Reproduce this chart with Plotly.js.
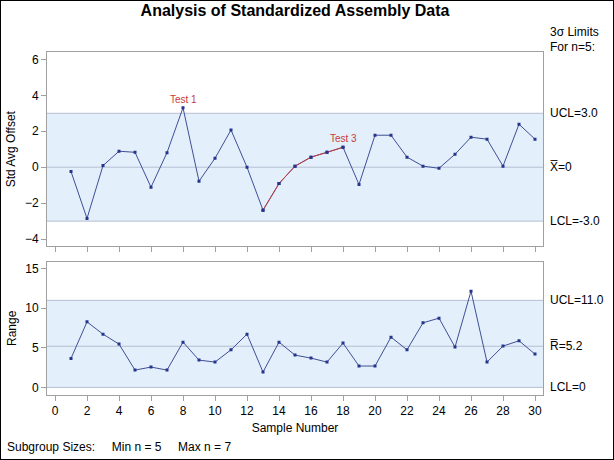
<!DOCTYPE html>
<html><head><meta charset="utf-8">
<script src="https://cdn.plot.ly/plotly-3.0.1.min.js"></script>
<style>body{margin:0;padding:0}#c{width:614px;height:460px}#f{position:absolute;left:0;top:0;width:614px;height:460px;box-sizing:border-box;border:1px solid #000;pointer-events:none}</style>
</head><body><div id="c"></div><div id="f"></div>
<script>
const samples = [1,2,3,4,5,6,7,8,9,10,11,12,13,14,15,16,17,18,19,20,21,22,23,24,25,26,27,28,29,30];
const stdAvg = [-0.24,-2.85,0.09,0.89,0.83,-1.11,0.81,3.31,-0.78,0.5,2.07,0.0,-2.39,-0.91,0.06,0.56,0.83,1.11,-0.96,1.78,1.78,0.56,0.06,-0.06,0.72,1.67,1.56,0.06,2.39,1.56];
const ranges = [3.66,8.28,6.73,5.47,2.19,2.57,2.19,5.72,3.45,3.2,4.75,6.73,1.94,5.72,4.08,3.7,3.2,5.6,2.7,2.7,6.35,4.75,8.16,8.75,5.09,12.16,3.2,5.22,5.89,4.21];
const test3Start = 13, test3End = 18;
const xUCL = 3.0, xCL = 0, xLCL = -3.0;
const rUCL = 11.0, rCL = 5.2, rLCL = 0;

const lineBlue = '#3e4f95', markBlue = '#27348b', red = '#c93a3a';
const limitLine = '#b4bfd2', fillBlue = '#e4effc', frame = '#a0a0a0';
const fontFam = 'Liberation Sans, Arial, sans-serif';

const i0 = samples.indexOf(test3Start), i1 = samples.indexOf(test3End);
const traces = [
  {x: samples, y: stdAvg, xaxis:'x2', yaxis:'y2', mode:'lines+markers', line:{color:lineBlue,width:1}, marker:{symbol:'square',size:3,color:markBlue}, hoverinfo:'none'},
  {x: samples.slice(i0,i1+1), y: stdAvg.slice(i0,i1+1), xaxis:'x2', yaxis:'y2', mode:'lines+markers', line:{color:red,width:1}, marker:{symbol:'square',size:3,color:markBlue}, hoverinfo:'none'},
  {x: samples, y: ranges, xaxis:'x', yaxis:'y', mode:'lines+markers', line:{color:lineBlue,width:1}, marker:{symbol:'square',size:3,color:markBlue}, hoverinfo:'none'}
];

function band(xref, yref, lo, hi){return {type:'rect', xref:xref, yref:yref, x0:0, x1:1, y0:lo, y1:hi, fillcolor:fillBlue, line:{width:0}, layer:'below'};}
function hl(xref, yref, v){return {type:'line', xref:xref, yref:yref, x0:0, x1:1, y0:v, y1:v, line:{color:limitLine,width:1}, layer:'below'};}

const rightLab = (yref, y, t) => ({xref:'paper', yref:yref, x:1, y:y, xanchor:'left', yanchor:'middle', xshift:5, text:t, showarrow:false, font:{size:12,color:'#000'}});

const layout = {
  width:614, height:460,
  margin:{l:47, r:71, t:52, b:65},
  paper_bgcolor:'#fff', plot_bgcolor:'#fff',
  font:{family:fontFam, size:12, color:'#000'},
  showlegend:false,
  title:{text:'<b>Analysis of Standardized Assembly Data</b>', x:0.5, xref:'paper', xanchor:'center', y:0.978, yanchor:'middle', font:{size:16, family:fontFam}},
  xaxis:{domain:[0,1], range:[-0.5,30.5], tickvals:[0,2,4,6,8,10,12,14,16,18,20,22,24,26,28,30], ticks:'outside', ticklen:5, tickcolor:frame, showline:true, linecolor:frame, mirror:true, showgrid:false, zeroline:false, anchor:'y', title:{text:'Sample Number', font:{size:12}, standoff:6}, tickfont:{size:12}},
  xaxis2:{domain:[0,1], range:[-0.5,30.5], tickvals:[0,2,4,6,8,10,12,14,16,18,20,22,24,26,28,30], showticklabels:false, ticks:'outside', ticklen:5, tickcolor:frame, showline:true, linecolor:frame, mirror:true, showgrid:false, zeroline:false, anchor:'y2'},
  yaxis:{domain:[0,0.389], range:[-0.96,15.9], tickvals:[0,5,10,15], ticks:'outside', ticklen:5, tickcolor:frame, showline:true, linecolor:frame, mirror:true, showgrid:false, zeroline:false, anchor:'x', title:{text:'Range', font:{size:12}, standoff:6}},
  yaxis2:{domain:[0.433,1], range:[-4.41,6.41], tickvals:[-4,-2,0,2,4,6], ticks:'outside', ticklen:5, tickcolor:frame, showline:true, linecolor:frame, mirror:true, showgrid:false, zeroline:false, anchor:'x2', title:{text:'Std Avg Offset', font:{size:12}, standoff:6}},
  shapes:[band('x2 domain','y2', xLCL, xUCL), hl('x2 domain','y2', xUCL), hl('x2 domain','y2', xCL), hl('x2 domain','y2', xLCL), band('x domain','y', rLCL, rUCL), hl('x domain','y', rUCL), hl('x domain','y', rCL), hl('x domain','y', rLCL)],
  annotations:[
    {xref:'x2', yref:'y2', x:8, y:stdAvg[samples.indexOf(8)], text:'Test 1', showarrow:false, yanchor:'bottom', yshift:1, font:{size:10,color:red}},
    {xref:'x2', yref:'y2', x:test3End, y:stdAvg[i1], text:'Test 3', showarrow:false, yanchor:'bottom', yshift:1, font:{size:10,color:red}},
    {xref:'paper', yref:'paper', x:1, y:1, xanchor:'left', yanchor:'middle', xshift:5, yshift:20, text:'3σ Limits', showarrow:false, font:{size:12}},
    {xref:'paper', yref:'paper', x:1, y:1, xanchor:'left', yanchor:'middle', xshift:5, yshift:5, text:'For n=5:', showarrow:false, font:{size:12}},
    rightLab('y2', xUCL, 'UCL=3.0'),
    rightLab('y2', xCL, 'X̅=0'),
    rightLab('y2', xLCL, 'LCL=-3.0'),
    rightLab('y', rUCL, 'UCL=11.0'),
    rightLab('y', rCL, 'R̅=5.2'),
    rightLab('y', rLCL, 'LCL=0'),
    {xref:'paper', yref:'paper', x:0, y:0, xanchor:'left', yanchor:'middle', xshift:-42, yshift:-52, text:'Subgroup Sizes:     Min n = 5     Max n = 7', showarrow:false, font:{size:12}}
  ]
};
Plotly.newPlot('c', traces, layout, {staticPlot:true});
</script></body></html>
